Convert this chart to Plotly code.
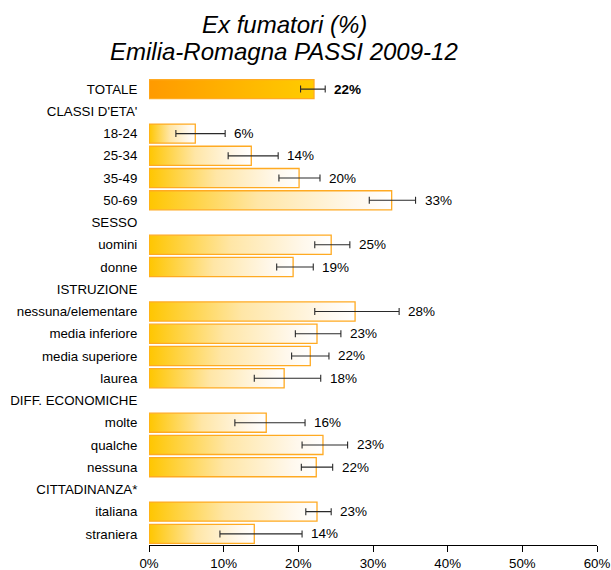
import plotly.graph_objects as go

labels = ["TOTALE", "CLASSI D'ETA'", "18-24", "25-34", "35-49", "50-69",
          "SESSO", "uomini", "donne",
          "ISTRUZIONE", "nessuna/elementare", "media inferiore", "media superiore", "laurea",
          "DIFF. ECONOMICHE", "molte", "qualche", "nessuna",
          "CITTADINANZA*", "italiana", "straniera"]
values = [22.1, None, 6.2, 13.7, 20.1, 32.5,
          None, 24.4, 19.3,
          None, 27.6, 22.5, 21.6, 18.1,
          None, 15.7, 23.3, 22.4,
          None, 22.5, 14.1]
ci_low = [20.3, None, 3.6, 10.6, 17.4, 29.5,
          None, 22.2, 17.1,
          None, 22.2, 19.6, 19.1, 14.1,
          None, 11.5, 20.5, 20.4,
          None, 21.0, 9.5]
ci_high = [23.6, None, 10.2, 17.3, 22.9, 35.7,
           None, 26.9, 22.0,
           None, 33.5, 25.7, 24.1, 23.0,
           None, 20.9, 26.6, 24.6,
           None, 24.4, 20.5]
value_text = ["22%", None, "6%", "14%", "20%", "33%",
              None, "25%", "19%",
              None, "28%", "23%", "22%", "18%",
              None, "16%", "23%", "22%",
              None, "23%", "14%"]
x_ticks = [0, 10, 20, 30, 40, 50, 60]
x_ticktext = ["0%", "10%", "20%", "30%", "40%", "50%", "60%"]
title_lines = ["Ex fumatori (%)", "Emilia-Romagna PASSI 2009-12"]

FONT = "Liberation Sans, Arial, sans-serif"
half = 0.43
W, H = 611, 570
L, R, T, B = 149, 14, 78, 25
PW, PH = W - L - R, H - T - B

fig = go.Figure()
for i, v in enumerate(values):
    if v is None:
        continue
    if i == 0:
        cs = [[0, "#FF9A00"], [1, "#FFCC00"]]
    else:
        cs = [[0, "#FFC600"], [0.45, "#FFE6A6"], [0.85, "#FFF8EC"], [1, "#FFFFFF"]]
    fig.add_trace(go.Scatter(
        x=[0, v, v, 0, 0],
        y=[i - half, i - half, i + half, i + half, i - half],
        mode="lines", fill="toself",
        fillgradient=dict(type="horizontal", colorscale=cs, start=0, stop=v),
        line=dict(color="#FFAA22", width=1.3),
        hoverinfo="skip", showlegend=False))

idx = [i for i, v in enumerate(values) if v is not None]
fig.add_trace(go.Scatter(
    x=[values[i] for i in idx], y=idx, mode="markers",
    marker=dict(size=1, color="rgba(0,0,0,0)"),
    error_x=dict(type="data", symmetric=False,
                 array=[ci_high[i] - values[i] for i in idx],
                 arrayminus=[values[i] - ci_low[i] for i in idx],
                 color="#2a2a2a", thickness=1.1, width=3.5),
    showlegend=False, hoverinfo="skip"))

for i in idx:
    txt = value_text[i]
    if i == 0:
        txt = "<b>" + txt + "</b>"
    fig.add_annotation(x=ci_high[i], y=i, text=txt, showarrow=False,
                       xanchor="left", yanchor="middle", xshift=7,
                       font=dict(family=FONT, size=13.5, color="#000000"))

# title as two annotation lines above the plot area (centred at x=284px)
tx = (284 - L) / PW
for k, line in enumerate(title_lines):
    cy = 24 + 27.5 * k
    fig.add_annotation(x=tx, xref="paper", y=1 + (T - cy) / PH, yref="paper",
                       text="<i>" + line + "</i>", showarrow=False,
                       xanchor="center", yanchor="middle",
                       font=dict(family=FONT, size=24, color="#000000"))

fig.update_layout(
    width=W, height=H,
    margin=dict(l=L, r=R, t=T, b=B, autoexpand=False),
    paper_bgcolor="white", plot_bgcolor="white",
    font=dict(family=FONT, size=13.3, color="#000000"),
)
fig.update_xaxes(range=[0, 60], tickvals=x_ticks, ticktext=x_ticktext,
                 automargin=False,
                 showgrid=False, zeroline=False, showline=True,
                 linecolor="#000000", linewidth=1, ticks="outside",
                 ticklen=6, tickcolor="#000000",
                 tickfont=dict(family=FONT, size=13.3, color="#000000"))
fig.update_yaxes(range=[20.5, -0.5], tickvals=list(range(len(labels))),
                 ticktext=labels, showgrid=False, zeroline=False,
                 automargin=False,
                 showline=False, ticks="outside", ticklen=8,
                 tickcolor="rgba(0,0,0,0)",
                 tickfont=dict(family=FONT, size=13.3, color="#000000"))

fig.write_html("out.html",
               config={"displayModeBar": False},
               post_script="document.body.style.margin='0px';document.body.style.overflow='hidden';")
